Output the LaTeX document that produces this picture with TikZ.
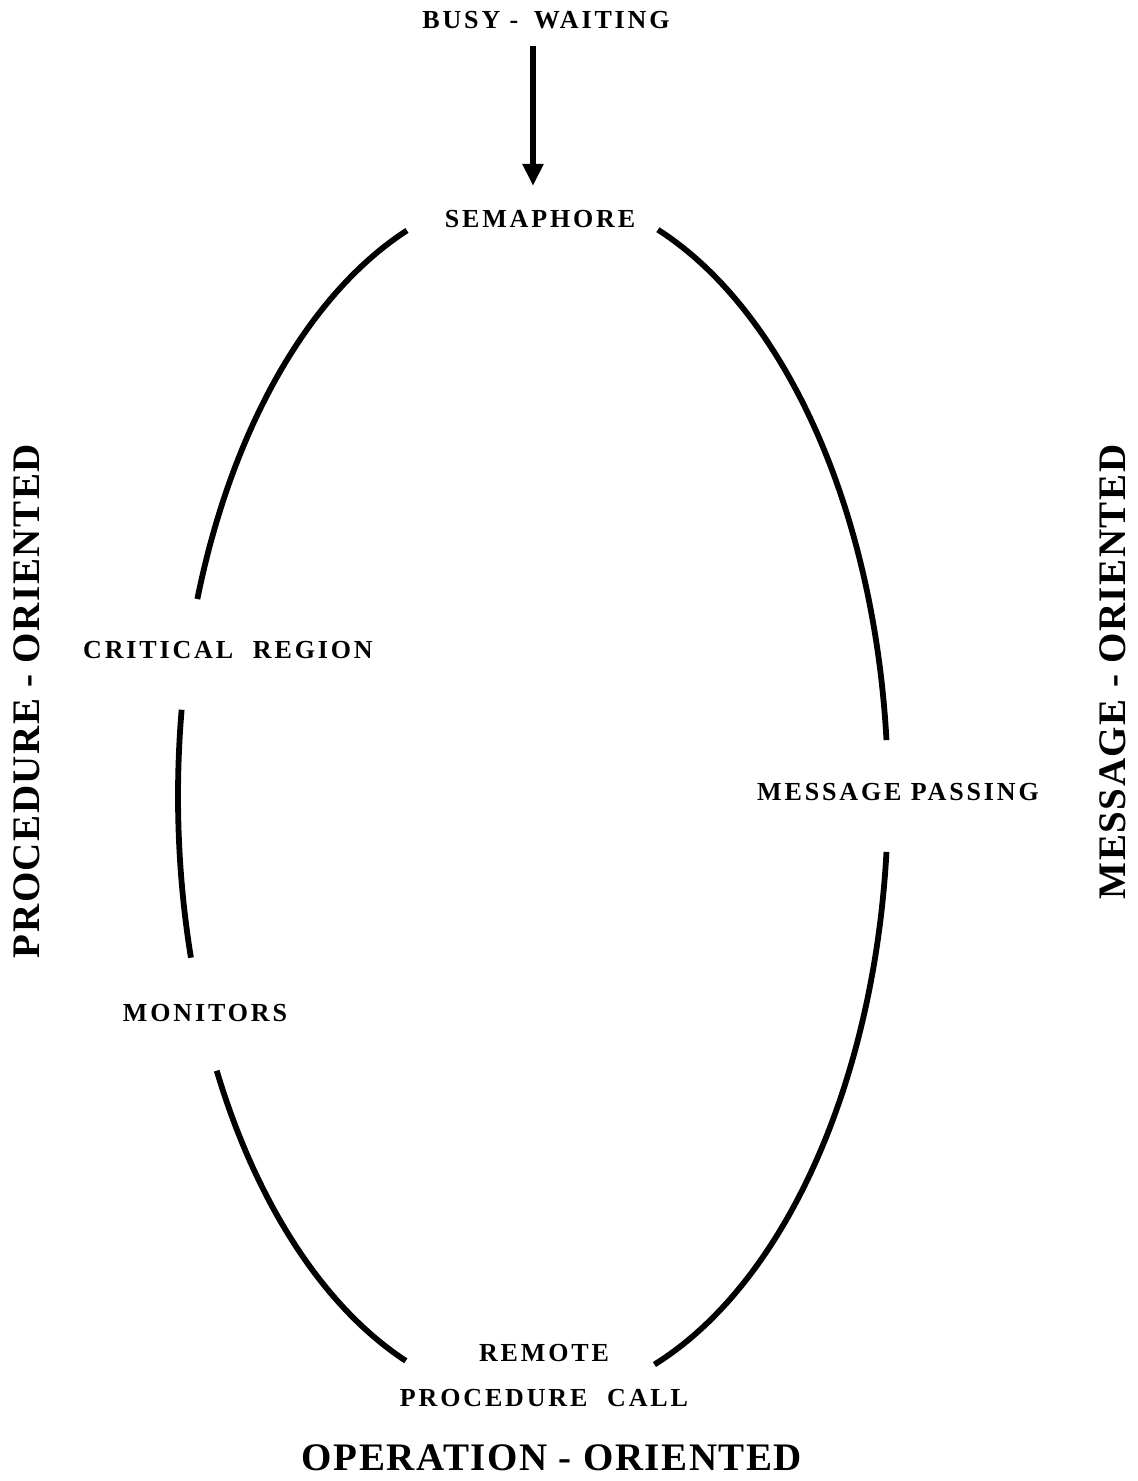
\documentclass[tikz,border=0pt]{standalone}
\usepackage{fontspec}
\setmainfont{Liberation Serif}
\newfontfamily\labelfont[LetterSpace=11]{Liberation Serif}
\newfontfamily\axisfont[LetterSpace=4]{Liberation Serif}
\usetikzlibrary{arrows.meta}

\begin{document}
\begin{tikzpicture}[x=0.5pt,y=-0.5pt,
  term/.style={inner sep=0pt, align=center,
    font={\labelfont\bfseries\fontsize{13}{22.5}\selectfont}},
  axis/.style={inner sep=0pt,
    font={\axisfont\bfseries\fontsize{19.5}{22}\selectfont}},
  ring/.style={line width=2.9pt},
  flow/.style={line width=2.8pt, -{Triangle[width=10pt,length=11pt]}}]

  % page frame
  \useasboundingbox (0,0) rectangle (1137,1481);

  % mechanisms
  \node[term] (busy) at (546,20)   {BUSY -\hspace{0.6em}WAITING};
  \node[term] (sem)  at (540,219)  {SEMAPHORE};
  \node[term] (crit) at (228,650)  {CRITICAL\hspace{0.4em} REGION};
  \node[term] (msg)  at (898,792)  {MESSAGE PASSING};
  \node[term] (mon)  at (205,1013) {MONITORS};
  \node[term] (rpc)  at (544,1375.5) {REMOTE\\PROCEDURE\hspace{0.4em} CALL};

  % orientation axes
  \node[axis] (op)    at (552,1458) {OPERATION - ORIENTED};
  \node[axis, rotate=90] (proc)  at (27,701)  {PROCEDURE - ORIENTED};
  \node[axis, rotate=90] (msgor) at (1113,672) {MESSAGE - ORIENTED};

  % busy-waiting leads to semaphores
  \coordinate (shaft) at (533,0);
  \draw[flow, shorten <=8.5pt, shorten >=12pt] (busy.south -| shaft) -- (sem.north -| shaft);

  % elliptical ring linking the mechanisms
  \def\ringarc#1#2{plot[domain=#1:#2, samples=80, smooth] ({533+355*cos(\x)},{796-605*sin(\x)})}
  \draw[ring] \ringarc{69.4}{5.3};
  \draw[ring] \ringarc{354.7}{290};
  \draw[ring] \ringarc{249}{207};
  \draw[ring] \ringarc{195.5}{171.8};
  \draw[ring] \ringarc{161}{110.8};
\end{tikzpicture}
\end{document}
